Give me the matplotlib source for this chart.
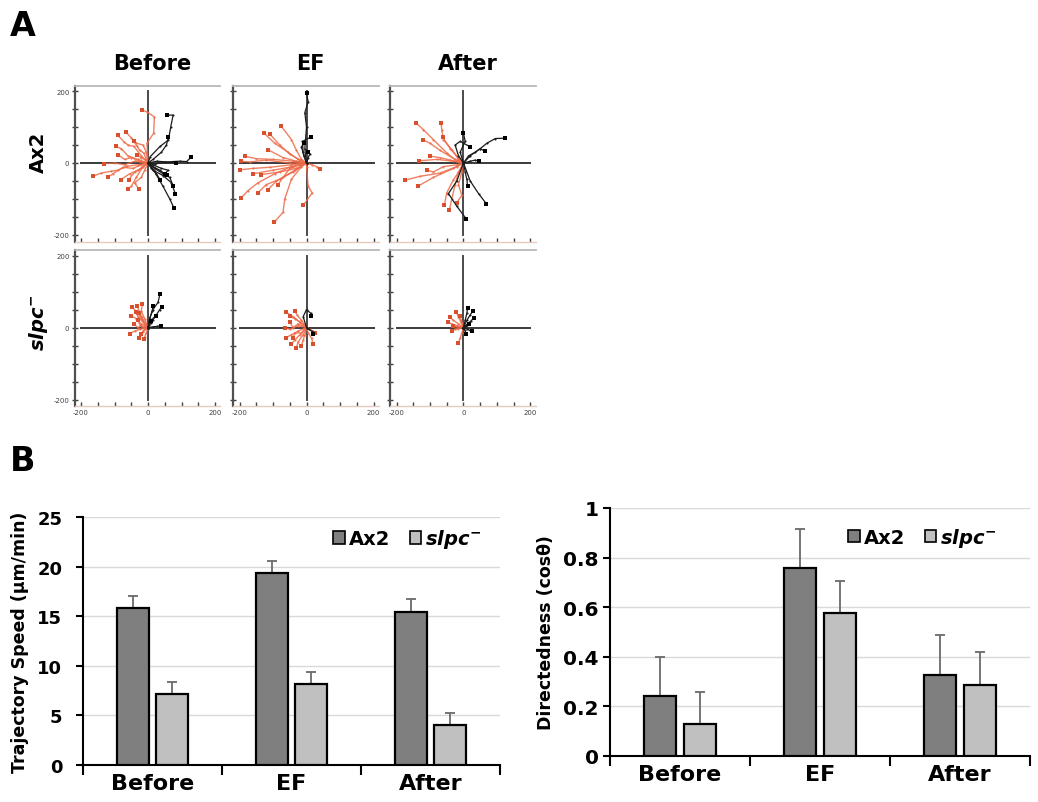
import matplotlib
matplotlib.use("Agg")
import matplotlib.pyplot as plt
from matplotlib.patches import Patch
import numpy as np

plt.rcParams['font.family'] = ['DejaVu Sans']
plt.rcParams['mathtext.fontset'] = 'custom'
plt.rcParams['mathtext.it'] = 'DejaVu Sans:italic:bold'
plt.rcParams['mathtext.rm'] = 'DejaVu Sans:bold'
plt.rcParams['mathtext.bf'] = 'DejaVu Sans:bold'

# ---------------- Panel A data (trajectory waypoints, µm; each starts at origin) ----------------
conditions = ["Before", "EF", "After"]
strains = ["Ax2", r"$slpc^{-}$"]

ax2_before_red = [
    [(-3,55),(17,83),(19,128),(-3,142),(-18,147)],
    [(-20,20),(-42,46),(-60,50),(-71,58),(-91,78)],
    [(-13,28),(-25,35),(-32,46),(-42,60)],
    [(-30,10),(-60,20),(-80,40),(-96,46)],
    [(-40,5),(-70,-5),(-100,0),(-130,-2)],
    [(-30,-5),(-62,-9),(-90,-20),(-111,-23),(-140,-28),(-165,-37)],
    [(-20,-15),(-40,-25),(-57,-46)],
    [(-10,-20),(-20,-40),(-40,-55),(-27,-73)],
    [(-30,-20),(-55,-30),(-81,-46)],
    [(-25,5),(-50,15),(-70,10),(-89,23)],
    [(-10,10),(-22,15),(-32,23)],
    [(-15,-10),(-35,-40),(-50,-65),(-60,-72)],
    [(-5,30),(-15,50),(-35,55),(-50,70),(-65,85)],
    [(-20,-5),(-45,-15),(-75,-12),(-105,-30),(-120,-40)],
]
ax2_before_black = [
    [(7,18),(36,46),(61,64),(68,101),(75,133),(56,133)],
    [(15,10),(40,30),(55,50),(61,72)],
    [(27,5),(55,3),(95,5),(115,4),(129,16)],
    [(20,-3),(50,2),(85,0)],
    [(15,-10),(35,-20),(56,-34)],
    [(20,-15),(45,-30),(65,-40),(75,-64)],
    [(15,-20),(45,-35),(70,-55),(82,-87)],
    [(17,-20),(45,-65),(65,-100),(78,-126)],
    [(10,-15),(25,-30),(36,-46)],
    [(15,-5),(40,-15),(60,-20),(50,-30)],
]
ax2_ef_red = [
    [(-15,10),(-30,35),(-45,65),(-75,102)],
    [(-25,10),(-55,30),(-95,55),(-127,83)],
    [(-20,8),(-50,25),(-80,50),(-110,81)],
    [(-30,5),(-70,15),(-115,37)],
    [(-40,5),(-100,10),(-150,12),(-185,19)],
    [(-50,0),(-120,8),(-170,3),(-197,5)],
    [(-45,-5),(-110,-12),(-160,-15),(-200,-19)],
    [(-40,-10),(-100,-20),(-160,-30)],
    [(-30,-15),(-80,-25),(-135,-32)],
    [(-45,-10),(-95,-30),(-145,-55),(-175,-77),(-195,-97)],
    [(-35,-20),(-80,-45),(-120,-60),(-145,-83)],
    [(-15,-10),(-45,-45),(-65,-100),(-70,-137),(-97,-165)],
    [(0,-10),(5,-65),(17,-83),(-10,-118)],
    [(15,-5),(30,-10),(40,-17)],
    [(-40,-25),(-90,-50),(-115,-74)],
    [(-20,-5),(-50,-15),(-70,-40),(-85,-60)],
]
ax2_ef_black = [
    [(-5,40),(0,100),(-5,140),(5,170),(0,194)],
    [(-10,30),(-12,60),(13,72)],
    [(-8,20),(-15,45),(-8,55)],
    [(5,15),(10,25),(5,30)],
]
ax2_after_red = [
    [(-20,5),(-50,28),(-90,65),(-120,93),(-142,111)],
    [(-15,10),(-35,37),(-60,65),(-65,93),(-67,111)],
    [(-25,10),(-70,35),(-100,55),(-122,65)],
    [(-15,15),(-40,40),(-62,72)],
    [(-30,5),(-80,10),(-132,6)],
    [(-20,-10),(-70,-28),(-130,-37),(-175,-48)],
    [(-30,-15),(-90,-40),(-137,-65)],
    [(-10,-20),(-30,-46),(-50,-83),(-57,-116)],
    [(-15,-25),(-25,-60),(-35,-100),(-42,-131)],
    [(-40,8),(-70,15),(-100,19)],
    [(-20,-5),(-60,-10),(-90,-25),(-110,-20)],
    [(-5,-25),(-15,-60),(-5,-90),(-20,-110)],
]
ax2_after_black = [
    [(20,20),(50,40),(70,55),(95,68),(123,69)],
    [(15,20),(35,30),(50,40),(65,32)],
    [(20,5),(35,8),(45,5)],
    [(-10,30),(5,60),(0,83)],
    [(5,-25),(10,-45),(12,-63)],
    [(20,-50),(45,-85),(68,-113)],
    [(-20,-50),(-45,-85),(-20,-120),(8,-155)],
    [(-15,20),(-25,50),(-10,60),(20,45)],
]
slpc_before_red = [
    [(-20,25),(-35,45),(-47,56)],
    [(-25,-5),(-40,-10),(-54,-17)],
    [(-15,20),(-25,40),(-32,60)],
    [(-10,25),(-20,45),(-17,65)],
    [(-20,10),(-35,25),(-50,32)],
    [(-15,-10),(-20,-20),(-27,-28)],
    [(-5,-15),(-10,-25),(-12,-32)],
    [(-20,5),(-30,0),(-42,9)],
    [(-15,15),(-30,30),(-37,42)],
    [(-10,-5),(-15,-12),(-22,-19)],
    [(-10,10),(-18,30),(-28,40)],
    [(-12,-2),(-25,8),(-30,20)],
]
slpc_before_black = [
    [(5,25),(15,50),(30,70),(36,94)],
    [(10,20),(25,35),(35,50),(43,56)],
    [(8,12),(15,22),(23,32)],
    [(5,25),(12,45),(16,60)],
    [(15,2),(28,3),(38,5)],
    [(3,8),(6,14),(8,19)],
]
slpc_ef_red = [
    [(-20,15),(-40,30),(-60,42)],
    [(-25,5),(-50,-5),(-65,0)],
    [(-20,-20),(-35,-35),(-45,-46)],
    [(-10,-20),(-25,-40),(-30,-56)],
    [(-20,15),(-35,25),(-50,32)],
    [(-15,20),(-28,35),(-35,46)],
    [(10,-5),(18,-10),(25,-14)],
    [(5,-15),(15,-30),(20,-46)],
    [(-25,-10),(-45,-20),(-60,-28)],
    [(-5,-20),(-10,-35),(-15,-51)],
    [(-25,10),(-40,0),(-50,15)],
    [(-15,-15),(-35,-15),(-40,-30)],
]
slpc_ef_black = [
    [(-10,30),(0,50),(12,40),(13,32)],
    [(8,-5),(15,-10),(20,-17)],
]
slpc_after_red = [
    [(-15,10),(-30,20),(-40,28)],
    [(-20,5),(-35,10),(-45,14)],
    [(-5,-15),(-10,-30),(-15,-42)],
    [(-15,-3),(-25,-5),(-35,-9)],
    [(-8,15),(-15,30),(-22,42)],
    [(-4,12),(-8,22),(-10,32)],
    [(-12,2),(-22,3),(-30,5)],
]
slpc_after_black = [
    [(5,20),(10,40),(12,53)],
    [(10,20),(20,35),(28,46)],
    [(12,10),(22,18),(30,26)],
    [(10,-3),(18,-8),(25,-11)],
    [(6,4),(10,7),(15,9)],
    [(4,-8),(6,-14),(8,-19)],
]

# ---------------- Panel B data ----------------
categories = ["Before", "EF", "After"]
series_names = ["Ax2", r"$slpc^{-}$"]
speed_ax2 = [15.8, 19.35, 15.4]
speed_ax2_err = [1.2, 1.25, 1.3]
speed_slpc = [7.15, 8.2, 4.05]
speed_slpc_err = [1.25, 1.2, 1.2]
dir_ax2 = [0.242, 0.757, 0.328]
dir_ax2_err = [0.158, 0.157, 0.16]
dir_slpc = [0.13, 0.577, 0.288]
dir_slpc_err = [0.13, 0.129, 0.13]

W, H = 1038, 803
fig = plt.figure(figsize=(W / 100, H / 100), dpi=100)

def px_axes(left, top, right, bottom):
    return fig.add_axes([left / W, 1 - bottom / H, (right - left) / W, (bottom - top) / H])

RED = "#ee6a48"
BLK = "#1c1c1c"

panels = [
    [(ax2_before_red, ax2_before_black), (ax2_ef_red, ax2_ef_black), (ax2_after_red, ax2_after_black)],
    [(slpc_before_red, slpc_before_black), (slpc_ef_red, slpc_ef_black), (slpc_after_red, slpc_after_black)],
]
col_origin_px = [148, 306.5, 463.5]
row_origin_px = [164, 328.5]
sx, sy = 0.335, 0.36
XL, XR, YB, YT = -218, 215, -219, 214

for r in range(2):
    for c in range(3):
        ox, oy = col_origin_px[c], row_origin_px[r]
        ax = px_axes(ox + XL * sx, oy - YT * sy, ox + XR * sx, oy - YB * sy)
        ax.set_xlim(XL, XR)
        ax.set_ylim(YB, YT)
        ax.set_facecolor("white")
        # axis cross lines
        ax.plot([-200, 200], [0, 0], color="#3a3a3a", lw=1.4, zorder=1)
        ax.plot([0, 0], [-200, 200], color="#4a4a4a", lw=1.4, zorder=1)
        red, blk = panels[r][c]
        for tr in red:
            pts = np.array([(0, 0)] + tr)
            ax.plot(pts[:, 0], pts[:, 1], color=RED, lw=1.0, alpha=0.85,
                    marker="o", ms=1.6, mew=0, zorder=2)
            ax.plot(pts[-1, 0], pts[-1, 1], "s", color="#d9502e", ms=2.2, mew=0, zorder=3)
        for tr in blk:
            pts = np.array([(0, 0)] + tr)
            ax.plot(pts[:, 0], pts[:, 1], color=BLK, lw=0.9,
                    marker="o", ms=1.5, mew=0, zorder=4)
            ax.plot(pts[-1, 0], pts[-1, 1], "s", color="black", ms=2.4, mew=0, zorder=5)
        ax.spines["right"].set_visible(False)
        ax.spines["top"].set_color("#b8b8b8")
        ax.spines["top"].set_linewidth(1.3)
        ax.spines["left"].set_color("#505050")
        ax.spines["left"].set_linewidth(1.6)
        ax.spines["bottom"].set_color("#e2cbbf")
        ax.spines["bottom"].set_linewidth(1.0)
        ticks = list(range(-200, 201, 50))
        ax.set_yticks(ticks)
        ax.set_xticks(ticks)
        ylabels = [str(t) if (t in (-200, 0, 200) and c == 0) else "" for t in ticks]
        xlabels = [str(t) if (t in (-200, 0, 200) and r == 1) else "" for t in ticks]
        ax.set_yticklabels(ylabels)
        ax.set_xticklabels(xlabels)
        ax.tick_params(axis="y", direction="inout", length=4, width=1, color="#404040",
                       labelsize=5, labelcolor="#404040", pad=2)
        ax.tick_params(axis="x", direction="in", length=3, width=1, color="#404040",
                       labelsize=5, labelcolor="#404040", pad=2)

# titles and row labels
for c, name in enumerate(conditions):
    fig.text(col_origin_px[c] / W + 0.004, 1 - 64 / H, name, ha="center", va="center",
             fontsize=15, fontweight="bold")
fig.text(38 / W, 1 - 152 / H, strains[0], ha="center", va="center", rotation=90,
         fontsize=14, fontweight="bold")
fig.text(38 / W, 1 - 323 / H, strains[1], ha="center", va="center", rotation=90,
         fontsize=14, fontweight="bold")
fig.text(23 / W, 1 - 26 / H, "A", ha="center", va="center", fontsize=24, fontweight="bold")
fig.text(23 / W, 1 - 462 / H, "B", ha="center", va="center", fontsize=24, fontweight="bold")

# ---------------- Panel B bar charts ----------------
def bar_chart(ax, a, aerr, b, berr, ylim, yticks, yticklabels, ylabel, tick_fs, tick_pad,
              leg_anchor):
    x = np.arange(len(categories))
    off, w = 0.142, 0.23
    ax.bar(x - off, a, w, color="#7f7f7f", edgecolor="black", linewidth=1.6, zorder=3,
           label=series_names[0])
    ax.bar(x + off, b, w, color="#c0c0c0", edgecolor="black", linewidth=1.6, zorder=3,
           label=series_names[1])
    ax.errorbar(x - off, a, yerr=[np.zeros(3), aerr], fmt="none", ecolor="#6a6a6a",
                elinewidth=1.3, capsize=3.5, capthick=1.3, zorder=2)
    ax.errorbar(x + off, b, yerr=[np.zeros(3), berr], fmt="none", ecolor="#6a6a6a",
                elinewidth=1.3, capsize=3.5, capthick=1.3, zorder=2)
    ax.set_xlim(-0.5, 2.5)
    ax.set_ylim(*ylim)
    ax.set_yticks(yticks)
    ax.set_yticklabels(yticklabels, fontweight="bold", fontsize=tick_fs)
    ax.yaxis.grid(True, color="#d9d9d9", lw=1.0, zorder=0)
    ax.set_axisbelow(True)
    ax.set_xticks(x)
    ax.set_xticklabels(categories, fontweight="bold", fontsize=16)
    ax.set_xticks([-0.5, 0.5, 1.5, 2.5], minor=True)
    ax.tick_params(axis="x", which="major", length=0, pad=6)
    ax.tick_params(axis="x", which="minor", length=7, width=1.5, direction="out")
    ax.tick_params(axis="y", length=5, width=1.5, direction="out", pad=tick_pad)
    for s in ["top", "right"]:
        ax.spines[s].set_visible(False)
    ax.spines["left"].set_linewidth(1.5)
    ax.spines["bottom"].set_linewidth(1.5)
    ax.set_ylabel(ylabel, fontweight="bold", fontsize=12.5, labelpad=6)
    handles = [Patch(facecolor="#7f7f7f", edgecolor="black", lw=1.2),
               Patch(facecolor="#c0c0c0", edgecolor="black", lw=1.2)]
    ax.legend(handles, series_names, loc="upper right", bbox_to_anchor=leg_anchor, ncol=2,
              frameon=False, handlelength=0.6, handleheight=0.6, handletextpad=0.2,
              columnspacing=1.0, borderaxespad=0,
              prop={"weight": "bold", "size": 14})

axL = px_axes(83, 518, 500, 766)
bar_chart(axL, speed_ax2, speed_ax2_err, speed_slpc, speed_slpc_err, (0, 25),
          [0, 5, 10, 15, 20, 25], ["0", "5", "10", "15", "20", "25"],
          "Trajectory Speed (µm/min)", 13, 10, (0.975, 0.99))

axR = px_axes(610, 509, 1030, 757)
bar_chart(axR, dir_ax2, dir_ax2_err, dir_slpc, dir_slpc_err, (0, 1),
          [0, 0.2, 0.4, 0.6, 0.8, 1.0], ["0", "0.2", "0.4", "0.6", "0.8", "1"],
          "Directedness (cosθ)", 14.5, 3, (0.94, 0.96))

fig.savefig("out.png", dpi=100, facecolor="white")
